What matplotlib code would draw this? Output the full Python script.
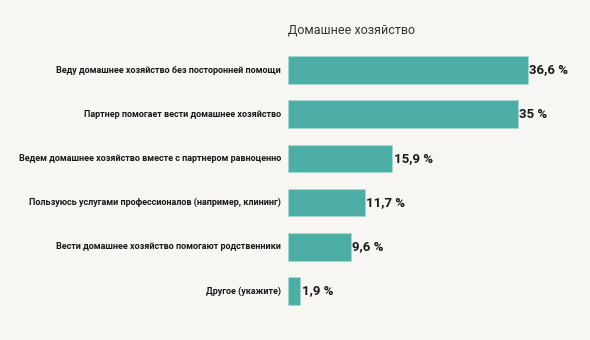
import matplotlib
matplotlib.use("Agg")
import matplotlib.pyplot as plt

categories = [
    "Веду домашнее хозяйство без посторонней помощи",
    "Партнер помогает вести домашнее хозяйство",
    "Ведем домашнее хозяйство вместе с партнером равноценно",
    "Пользуюсь услугами профессионалов (например, клининг)",
    "Вести домашнее хозяйство помогают родственники",
    "Другое (укажите)",
]
values = [36.6, 35.0, 15.9, 11.7, 9.6, 1.9]
value_labels = ["36,6 %", "35 %", "15,9 %", "11,7 %", "9,6 %", "1,9 %"]
title = "Домашнее хозяйство"

plt.rcParams['font.family'] = ['Roboto', 'DejaVu Sans']
bg = "#f7f6f2"
bar_color = "#4caea4"

fig = plt.figure(figsize=(5.9, 3.4), dpi=100, facecolor=bg)
ax = fig.add_axes([288/590, 27/340, 290/590, 265/340], facecolor=bg)

ypos = list(range(len(categories)))
ax.barh(ypos, values, height=0.63, color=bar_color, edgecolor="#a8d8d2", linewidth=0.6)
ax.set_xlim(0, 290/6.56)
ax.set_ylim(5.5, -0.5)

for y, v, lab in zip(ypos, values, value_labels):
    ax.text(v + 0.2, y, lab, va="center", ha="left", fontsize=9.5, fontweight="bold", color="#1a1a1a")

for y, cat in zip(ypos, categories):
    ax.text(-1.1, y, cat, va="center", ha="right", fontsize=6.5, fontweight="bold", color="#1a1a1a")

for s in ax.spines.values():
    s.set_visible(False)
ax.set_xticks([])
ax.set_yticks([])

fig.text(288/590, 1 - 30/340, title, ha="left", va="center", fontsize=9, color="#333333")

fig.savefig("out.png", dpi=100, facecolor=bg)
